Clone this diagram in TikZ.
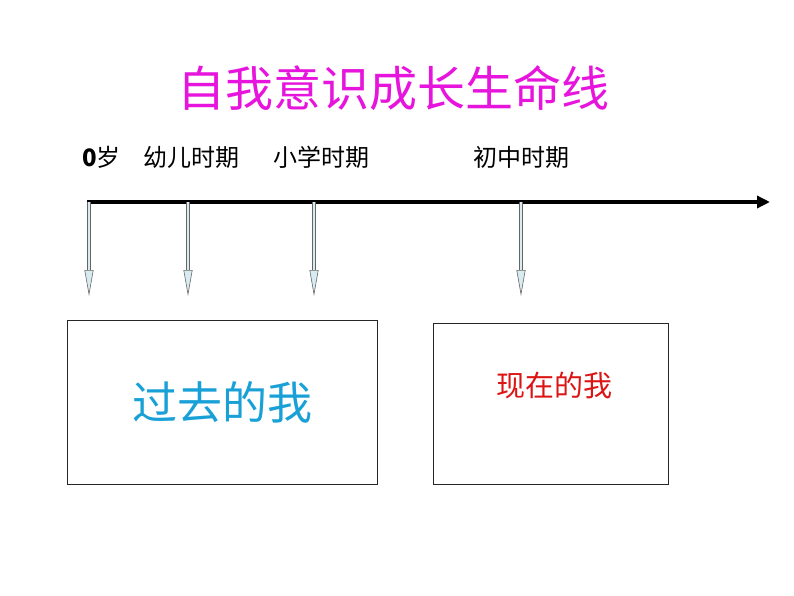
\documentclass[tikz,border=0pt]{standalone}
\usepackage{fontspec}
\setmainfont{Liberation Sans}
\newfontfamily\cjk{Noto Sans CJK SC}
\usepackage{tikz}
\usetikzlibrary{arrows.meta}

\definecolor{titlepink}{RGB}{230,20,220}
\definecolor{pastblue}{RGB}{25,160,215}
\definecolor{nowred}{RGB}{220,20,20}
\definecolor{shaftblue}{RGB}{215,235,240}
\tikzset{
  period/.style={anchor=base west,font=\cjk\fontsize{24}{24}\selectfont},
  tickarrow/.style={draw=gray!80!black,line width=0.6pt,double=shaftblue,double distance=2.4pt,
    -{Triangle[length=26pt,width=9pt,fill=shaftblue,color=gray!80!black,line width=0.6pt]}},
  selfbox/.style={draw=black!85,line width=0.8pt,minimum width=#1,inner sep=0pt}
}

\begin{document}
\begin{tikzpicture}[x=1pt,y=-1pt]
  \useasboundingbox (0,0) rectangle (794,596);
  \node[text=titlepink,font=\cjk\fontsize{48}{48}\selectfont] (title) at (393,88) {自我意识成长生命线};
  \node[period,inner sep=0pt] (zero) at (82,167) {\textbf{0}{\cjk 岁}};
  \node[period,inner sep=0pt] (kid) at (143,167) {幼儿时期};
  \node[period,inner sep=0pt] (primary) at (273,167) {小学时期};
  \node[period,inner sep=0pt] (junior) at (473,167) {初中时期};
  % time axis
  \coordinate (start) at (87,202);
  \coordinate (end) at (770,202);
  \draw[line width=3.6pt,-{Triangle[length=13pt,width=12pt]}] (start) -- (end);
  % ticks
  \coordinate (t1) at (89,202);  \coordinate (e1) at (89,296);
  \coordinate (t2) at (188,202); \coordinate (e2) at (188,296);
  \coordinate (t3) at (314,202); \coordinate (e3) at (314,296);
  \coordinate (t4) at (521,202); \coordinate (e4) at (521,296);
  \foreach \i in {1,...,4}
    \draw[tickarrow] (t\i) -- (e\i);
  % boxes
  \node[selfbox=310pt,minimum height=164pt] (past) at (222,402) {};
  \node[text=pastblue,font=\cjk\fontsize{45}{45}\selectfont] (pastlabel) at (222,402) {过去的我};
  \node[selfbox=235pt,minimum height=161pt] (now) at (550.5,403.5) {};
  \node[text=nowred,font=\cjk\fontsize{29}{29}\selectfont] (nowlabel) at (554,385) {现在的我};
\end{tikzpicture}
\end{document}
